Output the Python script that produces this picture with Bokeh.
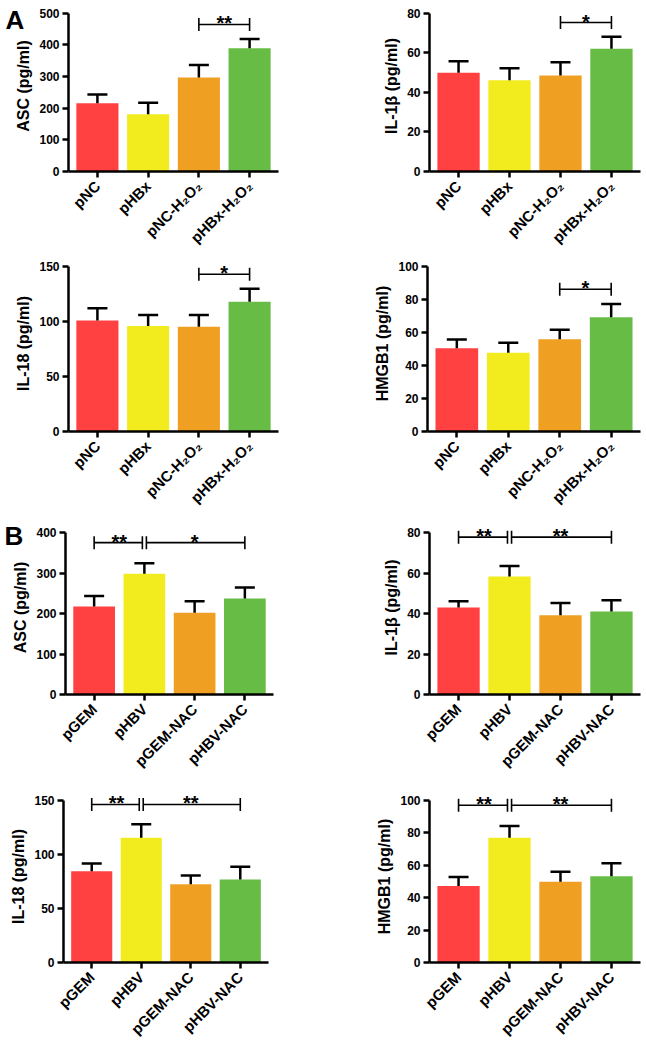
import math
from bokeh.plotting import figure
from bokeh.layouts import column, row
from bokeh.models import (Range1d, FactorRange, SingleIntervalTicker, Whisker, TeeHead,
                          ColumnDataSource, Label)
from bokeh.core.properties import value
from bokeh.embed import file_html
from bokeh.resources import INLINE

FONT = "Liberation Sans"

# ---------------- data ----------------
groups_a = ["pNC", "pHBx", "pNC-H\u2082O\u2082", "pHBx-H\u2082O\u2082"]
groups_b = ["pGEM", "pHBV", "pGEM-NAC", "pHBV-NAC"]
bar_colors = ["#FF4141", "#F2EC1E", "#EFA023", "#67BC45"]

a_asc_mean = [215, 181, 297, 389]
a_asc_sem = [28, 36, 39, 29]
a_il1b_mean = [49.8, 46.1, 48.5, 62.0]
a_il1b_sem = [5.9, 6.0, 6.7, 6.0]
a_il18_mean = [100.9, 95.8, 95.2, 117.9]
a_il18_sem = [11.1, 10.2, 10.6, 11.8]
a_hmgb1_mean = [50.4, 47.8, 55.9, 69.2]
a_hmgb1_sem = [5.3, 6.0, 5.8, 8.1]

b_asc_mean = [217, 298, 202, 237]
b_asc_sem = [26, 26, 28, 27]
b_il1b_mean = [43.0, 58.3, 39.1, 41.0]
b_il1b_sem = [3.0, 5.2, 6.1, 5.5]
b_il18_mean = [84.6, 115.4, 72.5, 76.9]
b_il18_sem = [7.1, 12.6, 8.1, 11.7]
b_hmgb1_mean = [47.2, 77.0, 49.9, 53.2]
b_hmgb1_sem = [5.6, 7.2, 6.1, 8.1]

# significance comparisons: (group i, group j, bracket level, label)
a_asc_sig = [(2, 3, 464, "**")]
a_il1b_sig = [(2, 3, 75.2, "*")]
a_il18_sig = [(2, 3, 143, "*")]
a_hmgb1_sig = [(2, 3, 86.2, "*")]
b_asc_sig = [(0, 1, 375, "**"), (1, 3, 375, "*")]
b_il1b_sig = [(0, 1, 77.7, "**"), (1, 3, 77.7, "**")]
b_il18_sig = [(0, 1, 146.3, "**"), (1, 3, 146.3, "**")]
b_hmgb1_sig = [(0, 1, 97.1, "**"), (1, 3, 97.1, "**")]

y_labels = ["ASC (pg/ml)", "IL-1\u03b2 (pg/ml)", "IL-18 (pg/ml)", "HMGB1 (pg/ml)"]


def panel(cats, means, sems, ymax, ystep, ylabel, sig, w, h, bl, br, pad, tick_h,
          letter=None, letter_x=0, letter_y=0):
    bb = h - pad - tick_h
    y_end = ymax * (tick_h + pad) / tick_h
    p = figure(width=w, height=h,
               x_range=FactorRange(factors=cats, range_padding=0.07, range_padding_units="absolute"),
               y_range=Range1d(0, y_end),
               output_backend="svg", toolbar_location=None,
               min_border_left=bl, min_border_right=br, min_border_top=0, min_border_bottom=bb)
    p.outline_line_color = None
    p.xgrid.visible = False
    p.ygrid.visible = False

    upper = [m + s for m, s in zip(means, sems)]
    src = ColumnDataSource(dict(x=cats, top=means, upper=upper, color=bar_colors))
    p.vbar(x="x", top="top", width=0.83, fill_color="color", line_color=None, source=src)
    wh = Whisker(base="x", lower="top", upper="upper", source=src, dimension="height",
                 line_width=2.5, line_color="black",
                 upper_head=TeeHead(size=20, line_width=2.5, line_color="black"),
                 lower_head=None, level="glyph")
    p.add_layout(wh)

    # significance brackets
    counts = {}
    for i, j, _, _ in sig:
        counts[i] = counts.get(i, 0) + 1
        counts[j] = counts.get(j, 0) + 1
    for i, j, yb, lab in sig:
        o0 = 0.04 if counts[i] > 1 else 0.0
        o1 = -0.04 if counts[j] > 1 else 0.0
        x0 = (cats[i], o0)
        x1 = (cats[j], o1)
        p.segment(x0=[x0], y0=[yb], x1=[x1], y1=[yb], line_width=1.6, line_color="black")
        p.scatter(x=[x0, x1], y=[yb, yb], marker="dash", angle=math.pi / 2, size=13,
                  line_width=1.6, line_color="black")
        p.text(x=[(cats[i], (j - i) / 2)], y=[yb], text=[lab], text_align="center",
               text_baseline="alphabetic", y_offset=-1, text_color="black",
               text_font=value(FONT), text_font_style="bold", text_font_size="20px")

    for ax in (p.xaxis[0], p.yaxis[0]):
        ax.axis_line_width = 2.5
        ax.axis_line_color = "black"
        ax.major_tick_line_width = 2.5
        ax.major_tick_line_color = "black"
        ax.major_tick_out = 6
        ax.major_tick_in = 0
        ax.minor_tick_out = 0
        ax.minor_tick_in = 0
        ax.major_label_text_font = FONT
        ax.major_label_text_font_style = "bold"
        ax.major_label_text_color = "black"

    p.yaxis.ticker = SingleIntervalTicker(interval=ystep, num_minor_ticks=0)
    p.yaxis.bounds = (0, ymax)
    p.yaxis.major_label_text_font_size = "12px"
    p.yaxis.major_label_standoff = 3
    p.yaxis.axis_label = ylabel
    p.yaxis.axis_label_text_font = FONT
    p.yaxis.axis_label_text_font_style = "bold"
    p.yaxis.axis_label_text_font_size = "16px"
    p.yaxis.axis_label_text_color = "black"
    p.yaxis.axis_label_standoff = 4

    p.xaxis.major_label_orientation = math.pi / 4
    p.xaxis.major_label_text_font_size = "15px"
    p.xaxis.major_label_standoff = 6

    if letter:
        # placed in the (empty) right side panel so it is not clipped to the frame;
        # canvas units let it sit at the figure's top-left corner
        p.add_layout(Label(x=letter_x, y=letter_y, x_units="canvas", y_units="canvas",
                           text=letter, text_font=FONT, text_font_style="bold",
                           text_font_size="26px", text_color="black",
                           text_align="left", text_baseline="top"), "right")
    return p


LW, RW = 323, 323

p1 = panel(groups_a, a_asc_mean, a_asc_sem, 500, 100, y_labels[0], a_asc_sig,
           LW, 255, 68, 45, 13, 164, letter="A", letter_x=5, letter_y=4)
p2 = panel(groups_a, a_il1b_mean, a_il1b_sem, 80, 20, y_labels[1], a_il1b_sig,
           RW, 255, 106, 6, 13, 164)
p3 = panel(groups_a, a_il18_mean, a_il18_sem, 150, 50, y_labels[2], a_il18_sig,
           LW, 265, 68, 45, 11, 165)
p4 = panel(groups_a, a_hmgb1_mean, a_hmgb1_sem, 100, 20, y_labels[3], a_hmgb1_sig,
           RW, 265, 104, 6, 11, 165)
p5 = panel(groups_b, b_asc_mean, b_asc_sem, 400, 100, y_labels[0], b_asc_sig,
           LW, 270, 65, 50, 12, 162, letter="B", letter_x=4, letter_y=0)
p6 = panel(groups_b, b_il1b_mean, b_il1b_sem, 80, 20, y_labels[1], b_il1b_sig,
           RW, 270, 106, 6, 12, 162)
p7 = panel(groups_b, b_il18_mean, b_il18_sem, 150, 50, y_labels[2], b_il18_sig,
           LW, 260, 63, 55, 10, 162)
p8 = panel(groups_b, b_hmgb1_mean, b_hmgb1_sem, 100, 20, y_labels[3], b_hmgb1_sig,
           RW, 260, 106, 6, 10, 162)

layout = column(row(p1, p2), row(p3, p4), row(p5, p6), row(p7, p8))

open("out.html", "w").write(file_html(layout, INLINE))
